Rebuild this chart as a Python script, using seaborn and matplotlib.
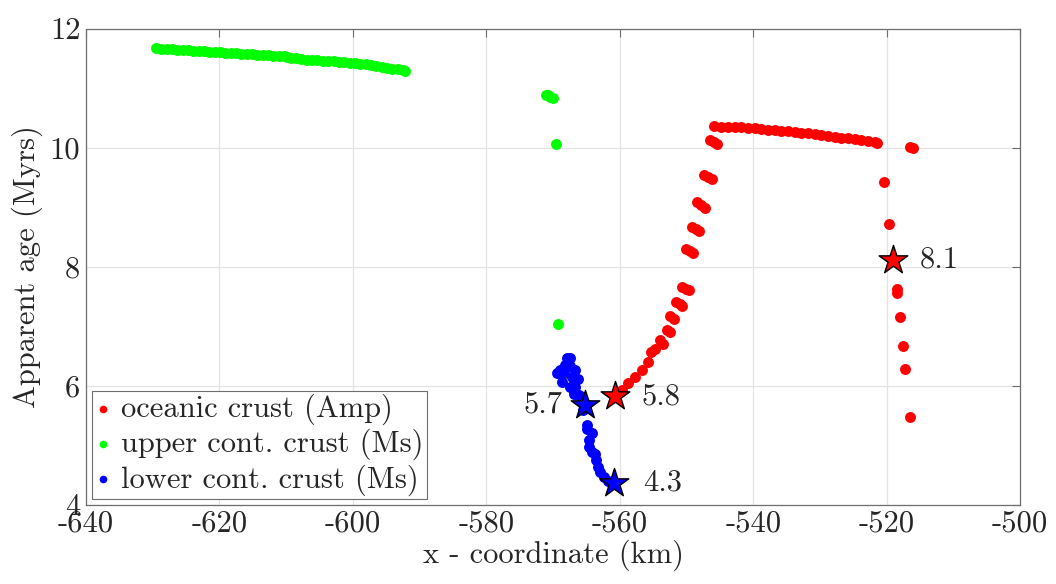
import matplotlib
matplotlib.use("Agg")
import matplotlib.pyplot as plt
import seaborn as sns
import pandas as pd

# ---------------- data ----------------
# upper continental crust (Ms) - green
green_x = [-629.5, -628.7, -627.9, -627.1, -626.3, -625.5, -624.7, -623.9, -623.1, -622.3,
           -621.5, -620.7, -619.9, -619.1, -618.3, -617.5, -616.7, -615.9, -615.1, -614.3,
           -613.5, -612.7, -611.9, -611.1, -610.3, -609.9,
           -609.3, -608.5, -607.7, -606.9, -606.1, -605.3, -604.5, -603.7, -602.9, -602.1,
           -601.3, -600.5, -599.7, -598.9, -598.1, -597.3, -596.5, -595.7, -594.9, -594.1,
           -593.3, -592.5, -592.2,
           -571.0, -570.7, -570.4, -570.0, -569.6, -569.2]
green_y = [11.67, 11.665, 11.66, 11.655, 11.65, 11.645, 11.64, 11.632, 11.627, 11.62,
           11.615, 11.61, 11.60, 11.595, 11.59, 11.585, 11.58, 11.574, 11.568, 11.562,
           11.556, 11.55, 11.545, 11.54, 11.535, 11.53,
           11.51, 11.50, 11.49, 11.48, 11.475, 11.47, 11.46, 11.455, 11.45, 11.445,
           11.44, 11.43, 11.42, 11.41, 11.40, 11.39, 11.37, 11.36, 11.345, 11.33,
           11.315, 11.30, 11.29,
           10.89, 10.88, 10.86, 10.83, 10.07, 7.03]

# oceanic crust (Amp) - red
red_x = [-559.7, -558.7, -557.7, -556.7, -555.7, -555.25, -554.7, -554.0, -553.5, -552.9,
         -552.4, -552.4, -551.9, -551.5, -551.0, -550.6, -550.6, -550.1, -549.6, -550.1,
         -549.5, -548.95, -549.15, -548.6, -548.15, -548.4, -547.8, -547.2, -547.4, -546.8,
         -546.2, -546.4, -545.9, -545.4,
         -545.8, -544.8, -543.8, -542.8, -541.8, -540.8, -539.8, -538.8, -537.8, -536.8,
         -535.8, -534.8, -533.8, -532.8, -531.8, -530.8, -529.8, -528.8, -527.8, -526.8,
         -525.8, -524.8, -523.8, -522.8, -521.8, -521.45,
         -516.5, -516.0, -520.35, -519.7, -518.5, -518.45, -518.0, -517.6, -517.2, -516.5]
red_y = [5.93, 6.04, 6.15, 6.26, 6.40, 6.57, 6.61, 6.77, 6.70, 6.94,
         6.91, 7.17, 7.12, 7.41, 7.37, 7.34, 7.66, 7.63, 7.60, 8.30,
         8.27, 8.23, 8.66, 8.63, 8.60, 9.08, 9.04, 8.99, 9.54, 9.50,
         9.47, 10.13, 10.10, 10.06,
         10.36, 10.355, 10.35, 10.345, 10.34, 10.33, 10.325, 10.315, 10.305, 10.295,
         10.285, 10.275, 10.265, 10.25, 10.24, 10.225, 10.21, 10.20, 10.185, 10.17,
         10.155, 10.14, 10.125, 10.11, 10.095, 10.08,
         10.01, 9.99, 9.43, 8.72, 7.62, 7.56, 7.16, 6.67, 6.28, 5.47]

# lower continental crust (Ms) - blue
blue_x = [-567.9, -567.4, -568.2, -567.4, -568.9, -569.35, -568.35, -566.65, -568.65, -567.15,
          -566.3, -567.4, -566.65, -566.9, -566.15, -565.45, -564.9, -564.85, -564.15, -564.65,
          -564.55, -564.15, -563.65, -563.55, -563.3, -562.9, -562.4, -561.8, -561.15]
blue_y = [6.46, 6.46, 6.35, 6.33, 6.26, 6.21, 6.21, 6.26, 6.06, 6.14,
          6.11, 5.98, 5.97, 5.86, 5.84, 5.59, 5.34, 5.28, 5.20, 5.09,
          4.97, 4.89, 4.85, 4.75, 4.64, 4.55, 4.47, 4.40, 4.35]

# highlighted points (stars) with their labels
star_red_x = [-560.7, -519.0]
star_red_y = [5.82, 8.12]
star_red_lab = ["5.8", "8.1"]
star_blue_x = [-565.25, -560.8]
star_blue_y = [5.68, 4.37]
star_blue_lab = ["5.7", "4.3"]

series_names = ["oceanic crust (Amp)", "upper cont. crust (Ms)", "lower cont. crust (Ms)"]
x_ticks = [-640, -620, -600, -580, -560, -540, -520, -500]
y_ticks = [4, 6, 8, 10, 12]

# ---------------- style ----------------
sns.set_theme(style="white")
plt.rcParams["font.family"] = ["cmr10", "DejaVu Serif"]
plt.rcParams["mathtext.fontset"] = "cm"
plt.rcParams["axes.unicode_minus"] = False
plt.rcParams["axes.formatter.use_mathtext"] = True

FS = 22
TXT = "#262626"
EDGE = "#6e6e6e"

fig = plt.figure(figsize=(10.56, 5.84), dpi=100)
ax = fig.add_axes([0.0814, 0.1358, 0.8846, 0.8151])

ax.grid(True, color="#e3e3e3", linewidth=0.9, zorder=0)
ax.set_axisbelow(True)

df_r = pd.DataFrame({"x": red_x, "y": red_y})
df_g = pd.DataFrame({"x": green_x, "y": green_y})
df_b = pd.DataFrame({"x": blue_x, "y": blue_y})

ms = 62
sns.scatterplot(data=df_r, x="x", y="y", color="#ff0000", s=ms, linewidth=0,
                label=series_names[0], ax=ax, zorder=3)
sns.scatterplot(data=df_g, x="x", y="y", color="#00ff00", s=ms, linewidth=0,
                label=series_names[1], ax=ax, zorder=3)
sns.scatterplot(data=df_b, x="x", y="y", color="#0000ff", s=ms, linewidth=0,
                label=series_names[2], ax=ax, zorder=3)

df_sr = pd.DataFrame({"x": star_red_x, "y": star_red_y})
df_sb = pd.DataFrame({"x": star_blue_x, "y": star_blue_y})
sns.scatterplot(data=df_sr, x="x", y="y", marker="*", color="#ff0000", s=470,
                edgecolor="black", linewidth=1.0, ax=ax, zorder=5, legend=False)
sns.scatterplot(data=df_sb, x="x", y="y", marker="*", color="#0000ff", s=470,
                edgecolor="black", linewidth=1.0, ax=ax, zorder=5, legend=False)

for xv, yv, t in zip(star_red_x, star_red_y, star_red_lab):
    ax.text(xv + 4.0, yv, t, fontsize=FS, color=TXT, ha="left", va="center", zorder=6)
ax.text(star_blue_x[0] - 3.3, star_blue_y[0], star_blue_lab[0], fontsize=FS, color=TXT,
        ha="right", va="center", zorder=6)
ax.text(star_blue_x[1] + 4.3, star_blue_y[1], star_blue_lab[1], fontsize=FS, color=TXT,
        ha="left", va="center", zorder=6)

ax.set_xlim(-640, -500)
ax.set_ylim(4, 12)
ax.set_xticks(x_ticks)
ax.set_xticklabels([str(v) for v in x_ticks])
ax.set_yticks(y_ticks)
ax.set_yticklabels([str(v) for v in y_ticks])
ax.tick_params(axis="both", direction="in", length=6, width=0.8, color=EDGE,
               labelsize=FS, labelcolor=TXT, top=True, right=True, pad=4)
for sp in ax.spines.values():
    sp.set_color(EDGE)
    sp.set_linewidth(0.9)

ax.set_xlabel("x - coordinate (km)", fontsize=FS, color=TXT, labelpad=1)
ax.set_ylabel("Apparent age (Myrs)", fontsize=FS, color=TXT, labelpad=5)

leg = ax.legend(loc="lower left", fontsize=FS, frameon=True, fancybox=False,
                edgecolor=EDGE, framealpha=1, markerscale=0.7,
                handlelength=0.5, handletextpad=0.35, labelspacing=0.12,
                borderpad=0.1, borderaxespad=0.2)
leg.get_frame().set_linewidth(0.8)
for t in leg.get_texts():
    t.set_color(TXT)

fig.savefig("out.png", dpi=100)
